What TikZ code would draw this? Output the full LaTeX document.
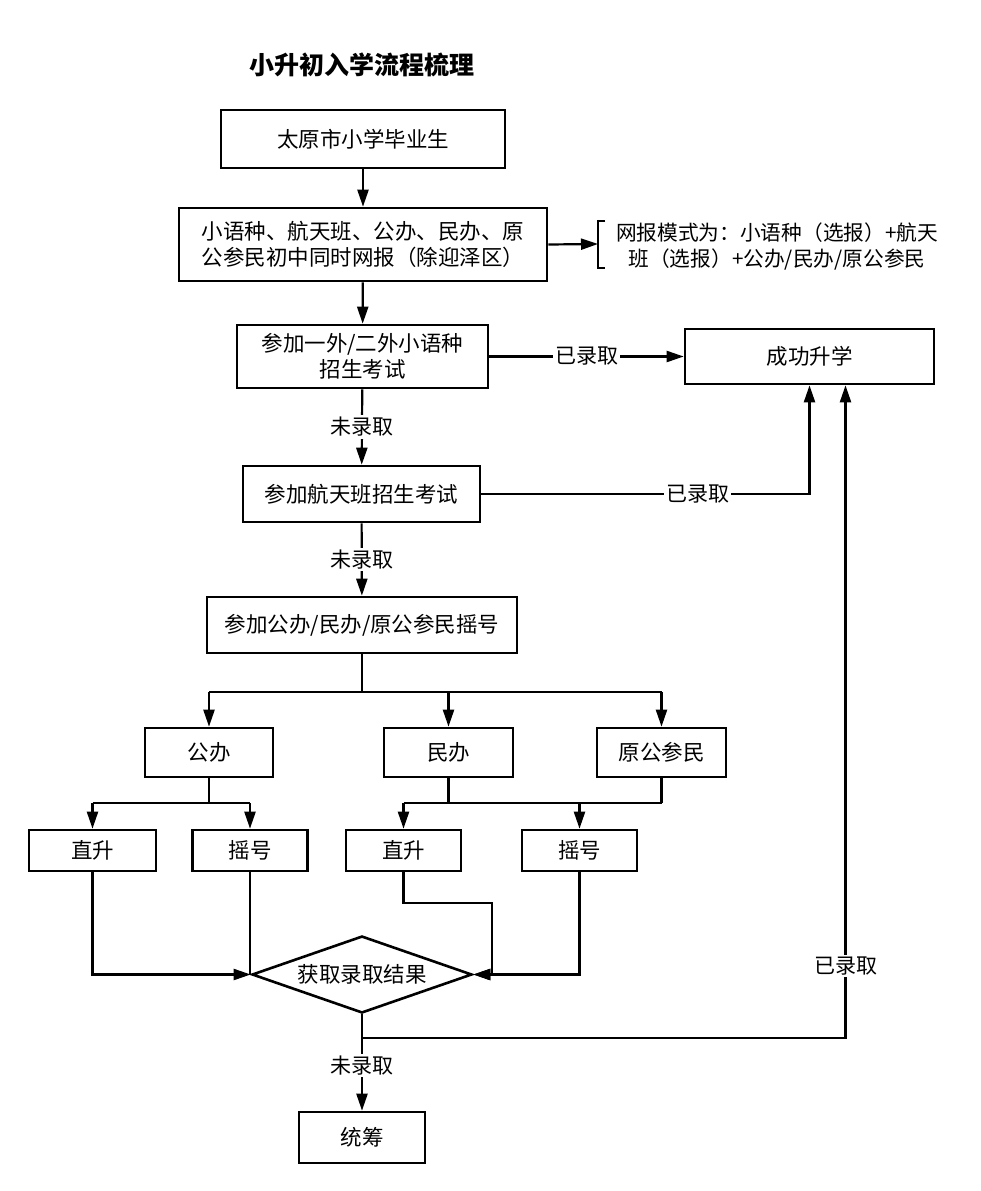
\documentclass[tikz,border=0pt]{standalone}
\usepackage{fontspec}
\setmainfont{Noto Sans CJK SC}
\usetikzlibrary{arrows.meta,shapes.geometric}

\begin{document}
\begin{tikzpicture}[x=1pt,y=-1pt,
  box/.style={draw,line width=2.6pt,inner sep=0pt,font=\fontsize{21.5}{26}\selectfont},
  arr/.style={line width=2.2pt,-{Triangle[length=17pt,width=11pt]}},
  lne/.style={line width=2.2pt},
  lbl/.style={fill=white,inner sep=2pt,font=\fontsize{21}{26}\selectfont}]
\useasboundingbox (0,0) rectangle (980,1191);
\node [font=\bfseries\fontsize{25}{30}\selectfont] (title) at (362,65) {小升初入学流程梳理};
\node [box,minimum width=284pt,minimum height=58pt] (start) at (363,139) {太原市小学毕业生};
\node [box,minimum width=368pt,minimum height=73pt,align=left] (apply) at (363,244.5) {小语种、航天班、公办、民办、原\\公参民初中同时网报（除迎泽区）};
\node [font=\fontsize{20.7}{26}\selectfont,align=center,inner sep=0pt] (note) at (777,246) {网报模式为：小语种（选报）+航天\\班（选报）+公办/民办/原公参民};
\coordinate (brk) at (598,244);
\draw [lne] (605,221) -- (598,221) -- (598,268) -- (605,268);
\node [box,minimum width=251pt,minimum height=63pt,align=center] (lang) at (362.5,356.5) {参加一外/二外小语种\\招生考试};
\node [box,minimum width=249pt,minimum height=55pt] (success) at (809.5,356.5) {成功升学};
\node [box,minimum width=237pt,minimum height=56pt] (space) at (361.5,494) {参加航天班招生考试};
\node [box,minimum width=310pt,minimum height=56pt] (lottery) at (362,625) {参加公办/民办/原公参民摇号};
\node [box,minimum width=128pt,minimum height=49pt] (gong) at (209,752.5) {公办};
\node [box,minimum width=129pt,minimum height=49pt] (min) at (448.5,752.5) {民办};
\node [box,minimum width=129pt,minimum height=49pt] (yuan) at (661.5,752.5) {原公参民};
\node [box,minimum width=127pt,minimum height=41pt] (zs1) at (92.5,850.5) {直升};
\node [box,minimum width=115pt,minimum height=41pt] (yh1) at (250,850.5) {摇号};
\node [box,minimum width=115pt,minimum height=41pt] (zs2) at (403.5,850.5) {直升};
\node [box,minimum width=115pt,minimum height=41pt] (yh2) at (579.5,850.5) {摇号};
\node [box,diamond,aspect=2.8,minimum width=220pt,minimum height=77pt] (result) at (362,974.5) {获取录取结果};
\node [box,minimum width=126pt,minimum height=51pt] (final) at (362,1137.5) {统筹};
\coordinate (split) at (362,692);
\coordinate (gsplit) at (209,803);
\coordinate (msplit) at (448.5,803);
\coordinate (bend) at (492,903);
\coordinate (join) at (362,1038);
\coordinate (back) at ([xshift=36pt]success.south);
\draw [arr] (start) -- (apply);
\draw [arr] (apply.east) -- (brk);
\draw [arr] (apply) -- (lang);
\draw [arr] (lang.east) -- node [lbl] {已录取} (success.west);
\draw [arr] (lang) -- node [lbl] {未录取} (space);
\draw [arr] (space.east) -| node [lbl,pos=0.33] {已录取} (success.south);
\draw [arr] (space) -- node [lbl] {未录取} (lottery);
\draw [lne] (lottery.south) -- (split);
\draw [lne] (gong.north |- split) -- (yuan.north |- split);
\draw [arr] (gong.north |- split) -- (gong.north);
\draw [arr] (min.north |- split) -- (min.north);
\draw [arr] (yuan.north |- split) -- (yuan.north);
\draw [lne] (gong.south) -- (gsplit);
\draw [lne] (zs1.north |- gsplit) -- (yh1.north |- gsplit);
\draw [arr] (zs1.north |- gsplit) -- (zs1.north);
\draw [arr] (yh1.north |- gsplit) -- (yh1.north);
\draw [lne] (min.south) -- (msplit);
\draw [lne] (yuan.south) -- (yuan.south |- msplit);
\draw [lne] (zs2.north |- msplit) -- (yuan.south |- msplit);
\draw [arr] (zs2.north |- msplit) -- (zs2.north);
\draw [arr] (yh2.north |- msplit) -- (yh2.north);
\draw [arr] (zs1.south) |- (result.west);
\draw [lne] (yh1.south) -- (yh1.south |- result.west);
\draw [arr] (zs2.south) |- (bend) |- (result.east);
\draw [arr] (yh2.south) |- (result.east);
\draw [lne] (result.south) -- (join);
\draw [arr] (join) -| node [lbl,pos=0.555] {已录取} (back);
\draw [arr] (join) -- node [lbl,pos=0.38] {未录取} (final);
\end{tikzpicture}
\end{document}
